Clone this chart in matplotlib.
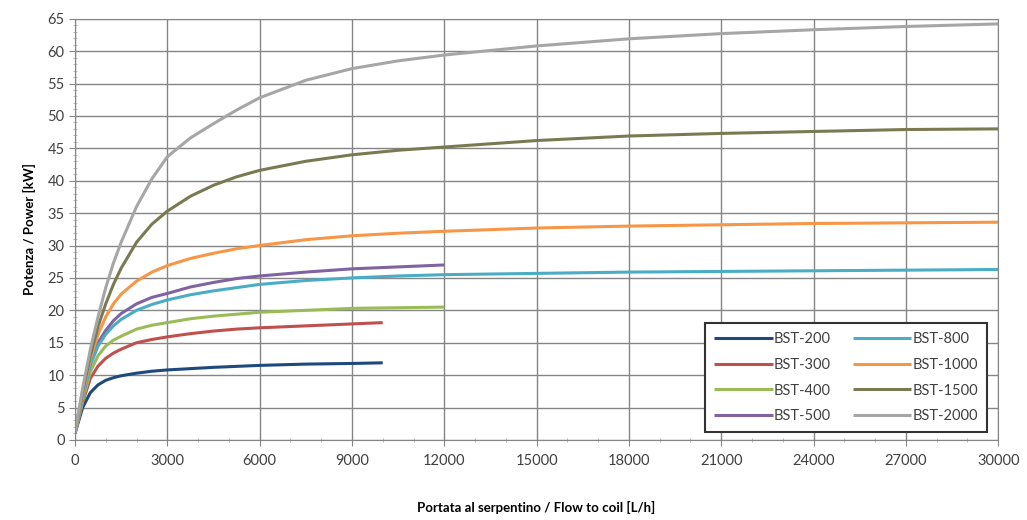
import matplotlib
matplotlib.use('Agg')
import matplotlib.pyplot as plt
from matplotlib.ticker import MultipleLocator

plt.rcParams['font.family'] = ['Lato', 'DejaVu Sans']

# flow to coil [L/h] and power [kW]
x_long = [0, 250, 500, 750, 1000, 1250, 1500, 2000, 2500, 3000, 3750, 4500,
          5250, 6000, 7500, 9000, 10500, 12000, 15000, 18000, 21000, 24000,
          27000, 30000]
x_mid = x_long[:18]                 # up to 12000 L/h
x_short = x_long[:16] + [10000]     # up to 10000 L/h

bst_200 = [1, 5, 7.3, 8.5, 9.2, 9.6, 9.9, 10.3, 10.6, 10.8, 11, 11.2, 11.35,
           11.5, 11.7, 11.8, 11.9]
bst_300 = [1, 5.8, 9.5, 11.4, 12.6, 13.4, 14, 15, 15.5, 15.9, 16.4, 16.8,
           17.1, 17.3, 17.6, 17.9, 18.1]
bst_400 = [1, 6, 10.5, 13, 14.5, 15.4, 16, 17.1, 17.7, 18.1, 18.7, 19.1,
           19.4, 19.7, 20, 20.3, 20.4, 20.5]
bst_500 = [1, 6.5, 12, 15, 16.9, 18.4, 19.5, 21, 22, 22.6, 23.6, 24.3, 24.9,
           25.3, 25.9, 26.4, 26.7, 27]
bst_800 = [1, 6.5, 11.5, 14.5, 16.3, 17.6, 18.6, 20, 20.9, 21.6, 22.4, 23,
           23.5, 24, 24.6, 25, 25.3, 25.5, 25.7, 25.9, 26, 26.1, 26.2, 26.3]
bst_1000 = [1, 7, 12.5, 16.3, 19, 21, 22.5, 24.5, 25.9, 26.9, 28, 28.8, 29.5,
            30, 30.9, 31.5, 31.9, 32.2, 32.7, 33, 33.2, 33.4, 33.5, 33.6]
bst_1500 = [1, 7.5, 13, 17.5, 21, 24, 26.5, 30.5, 33.3, 35.3, 37.6, 39.3,
            40.6, 41.6, 43, 44, 44.7, 45.2, 46.2, 46.9, 47.3, 47.6, 47.9, 48]
bst_2000 = [1, 8, 14, 19, 23.5, 27.3, 30.5, 36, 40.3, 43.7, 46.6, 48.8, 50.9,
            52.8, 55.5, 57.3, 58.5, 59.4, 60.8, 61.9, 62.7, 63.3, 63.8, 64.2]

series = [
    ('BST-200', x_short, bst_200, '#1F497D'),
    ('BST-300', x_short, bst_300, '#C0504D'),
    ('BST-400', x_mid, bst_400, '#9BBB59'),
    ('BST-500', x_mid, bst_500, '#8064A2'),
    ('BST-800', x_long, bst_800, '#4BACC6'),
    ('BST-1000', x_long, bst_1000, '#F79646'),
    ('BST-1500', x_long, bst_1500, '#7A7A52'),
    ('BST-2000', x_long, bst_2000, '#A6A6A6'),
]

fig = plt.figure(figsize=(10.27, 5.2), dpi=100)
ax = fig.add_axes([0.073, 0.154, 0.899, 0.81])

for name, xs, ys, col in series:
    ax.plot(xs, ys, color=col, lw=2.2, label=name, solid_capstyle='butt',
            solid_joinstyle='round')

ax.set_xlim(0, 30000)
ax.set_ylim(0, 65)
ax.xaxis.set_major_locator(MultipleLocator(3000))
ax.xaxis.set_minor_locator(MultipleLocator(1000))
ax.yaxis.set_major_locator(MultipleLocator(5))
ax.yaxis.set_minor_locator(MultipleLocator(1))
ax.grid(True, which='major', color='#858585', lw=1)
ax.set_axisbelow(True)
ax.tick_params(which='major', length=4, color='#858585', labelsize=10.5,
               labelcolor='#404040')
ax.tick_params(which='minor', length=3, color='#b0b0b0', direction='inout')
ax.tick_params(axis='x', pad=6)
for sp in ax.spines.values():
    sp.set_color('#858585')

ax.set_xlabel('Portata al serpentino / Flow to coil [L/h]', fontsize=9.5,
              fontweight='bold', labelpad=24)
ax.set_ylabel('Potenza / Power [kW]', fontsize=9.5, fontweight='bold',
              labelpad=8)

leg = ax.legend(ncol=2, loc='lower right', bbox_to_anchor=(0.988, 0.019),
                borderaxespad=0, fontsize=10.5, fancybox=False, framealpha=1,
                edgecolor='#333333', handlelength=4, handletextpad=0.1,
                columnspacing=1.5, labelspacing=0.8, borderpad=0.6)
leg.get_frame().set_linewidth(1.5)
for t in leg.get_texts():
    t.set_color('#404040')

fig.savefig('out.png', dpi=100)
